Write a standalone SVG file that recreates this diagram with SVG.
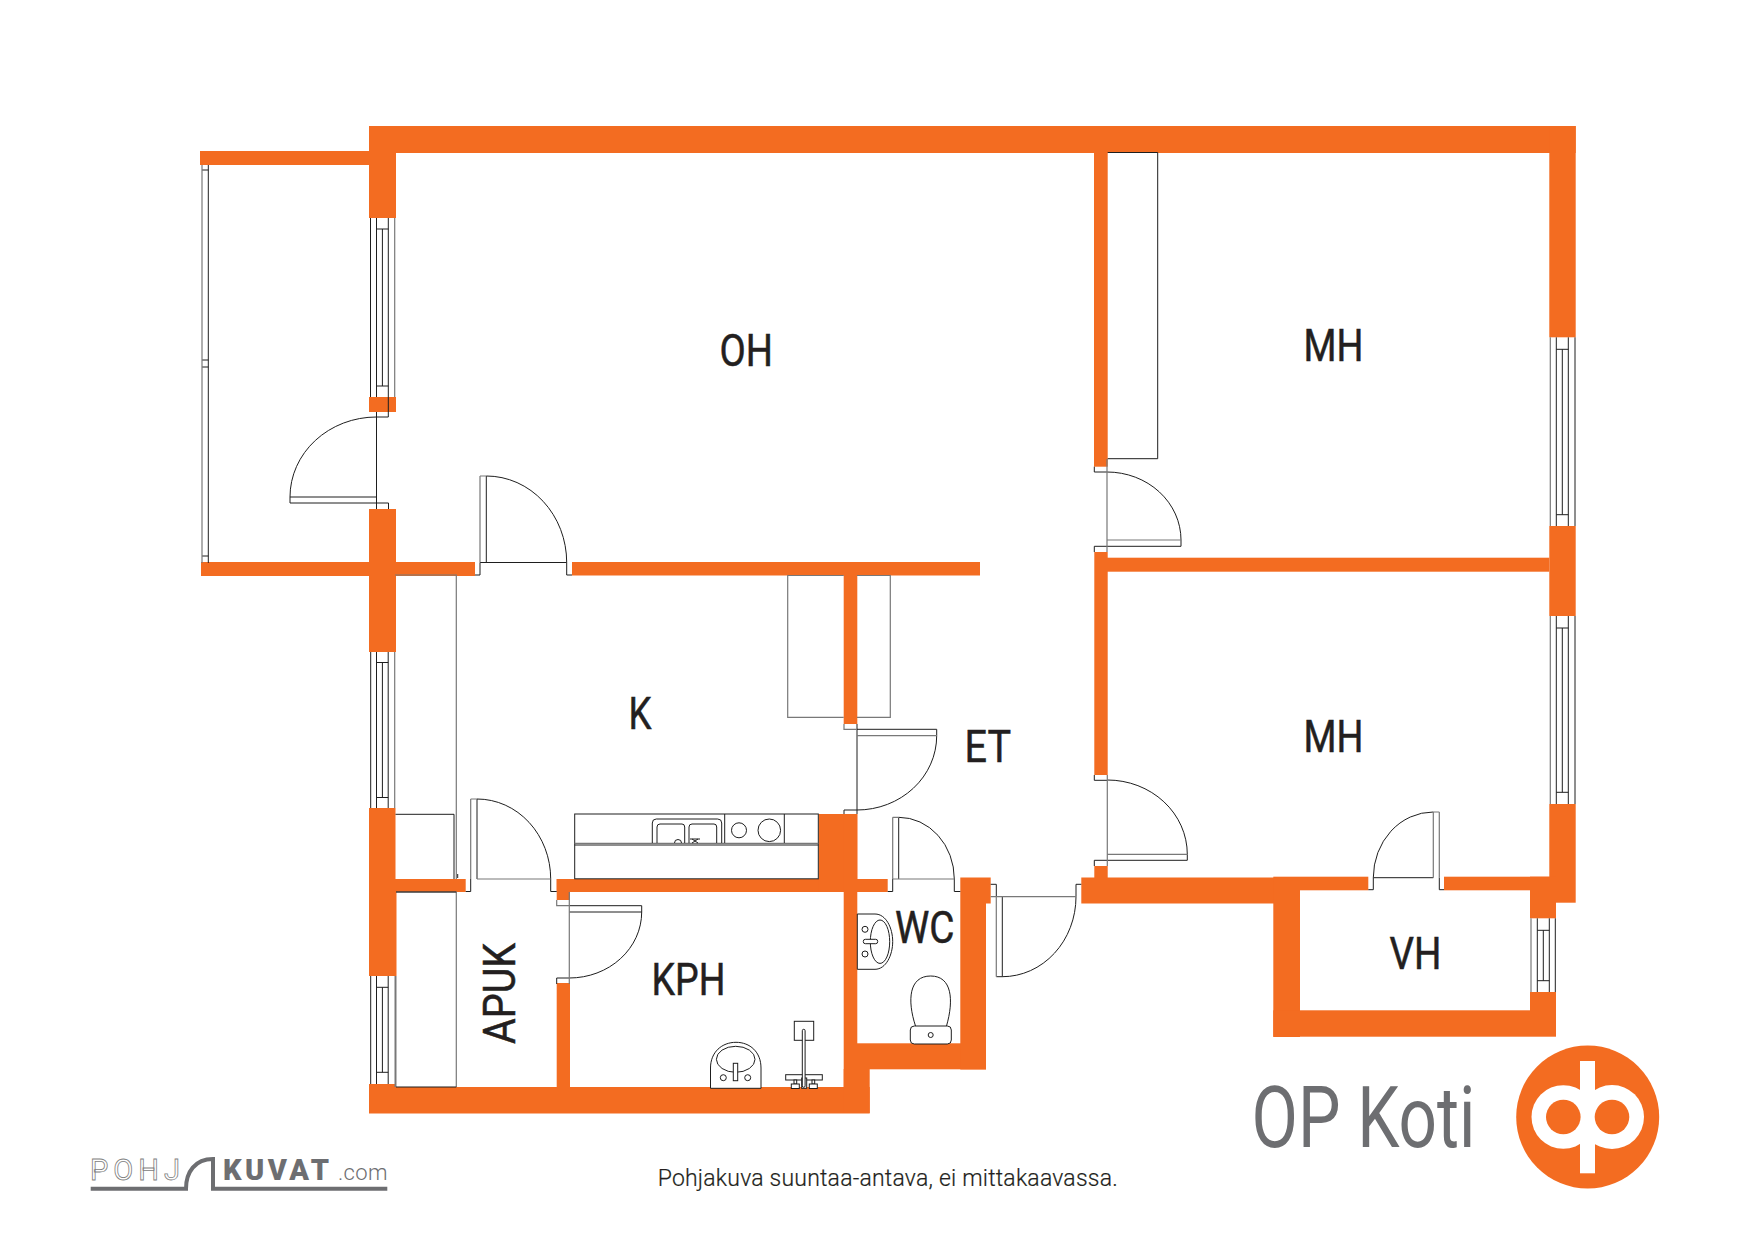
<svg xmlns="http://www.w3.org/2000/svg" width="1754" height="1241" viewBox="0 0 1754 1241">
<style>
.w{fill:#f36c21}
.l{fill:none;stroke:#1e1e1e;stroke-width:1}
.g{fill:none;stroke:#787878;stroke-width:1.2}
.f{fill:#fff;stroke:#1e1e1e;stroke-width:1}
.o{fill:#f36c21}
.t{font-family:"Roboto","Liberation Sans",sans-serif;font-size:44px;fill:#231f20;stroke:#231f20;stroke-width:.5;font-weight:400}
</style>
<rect width="1754" height="1241" fill="#fff"/>
<g id="walls">
<rect class="w" x="369" y="126" width="1206.7" height="27"/>
<rect class="w" x="200" y="151" width="170" height="14"/>
<rect class="w" x="369" y="126" width="27" height="92"/>
<rect class="w" x="369" y="397" width="27" height="15"/>
<rect class="w" x="369" y="509" width="27" height="143"/>
<rect class="w" x="201" y="562" width="274" height="14"/>
<rect class="w" x="572" y="562" width="408" height="13.5"/>
<rect class="w" x="369" y="808" width="26.5" height="168"/>
<rect class="w" x="395" y="879" width="70.7" height="13"/>
<rect class="w" x="395" y="892" width="1.5" height="84"/>
<rect class="w" x="369" y="1084" width="27" height="29"/>
<rect class="w" x="369" y="1087" width="500.7" height="26.5"/>
<rect class="w" x="556.7" y="983" width="13.3" height="104"/>
<rect class="w" x="556.7" y="879" width="13.3" height="21"/>
<rect class="w" x="556.7" y="879" width="300.6" height="13"/>
<rect class="w" x="818.7" y="814" width="38.6" height="78"/>
<rect class="w" x="843.7" y="575" width="13.6" height="149"/>
<rect class="w" x="843.7" y="814" width="13.6" height="273"/>
<rect class="w" x="857" y="879" width="30.7" height="13"/>
<rect class="w" x="857" y="1043.3" width="129" height="26"/>
<rect class="w" x="843.7" y="1069" width="26" height="44"/>
<rect class="w" x="960.3" y="877.5" width="25.7" height="192"/>
<rect class="w" x="986" y="877.5" width="4.7" height="26"/>
<rect class="w" x="1081.3" y="877.5" width="196" height="26"/>
<rect class="w" x="1094.3" y="866" width="13.4" height="12"/>
<rect class="w" x="1094.3" y="552" width="13.4" height="223"/>
<rect class="w" x="1094" y="153" width="13.7" height="313.7"/>
<rect class="w" x="1107" y="557.7" width="442.3" height="14"/>
<rect class="w" x="1549.3" y="126" width="26.4" height="211.3"/>
<rect class="w" x="1549.3" y="526" width="26.4" height="90"/>
<rect class="w" x="1549.3" y="804" width="26.4" height="98.7"/>
<rect class="w" x="1273.3" y="876.7" width="95" height="13.6"/>
<rect class="w" x="1444" y="876.7" width="105.7" height="13.6"/>
<rect class="w" x="1530" y="876.7" width="26" height="41.6"/>
<rect class="w" x="1273.3" y="880" width="26.7" height="157"/>
<rect class="w" x="1273.3" y="1010.3" width="282.7" height="26.4"/>
<rect class="w" x="1530" y="992" width="26" height="44"/>
</g>
<g id="windows">
<path class="l" d="M370.5 218V397M376.5 218V397M388.3 218V412M376.5 229H388.3M376.5 386H388.3M382.4 229V386"/>
<path class="g" d="M394.7 218V397"/>
<path class="l" d="M208.3 165V563M202 360H208.3M202 367H208.3M202 170H208.3M202 556H208.3"/>
<path class="g" d="M202 165V563"/>
<path class="l" d="M370.7 652V808M376.5 652V808M388.2 652V808M376.5 662.5H388.2M376.5 797.5H388.2M382.4 662.5V797.5"/>
<path class="g" d="M394.7 652V808"/>
<path class="l" d="M370.7 976V1084M376.5 976V1084M388.2 976V1084M376.5 987.3H388.2M376.5 1072.3H388.2M382.4 987.3V1072.3"/>
<path class="g" d="M395.5 976V1087" style="stroke-width:2"/>
<path class="l" d="M1556.3 337.3V526M1562.3 349.3V514.7M1568.3 337.3V526M1575 337.3V526M1556.3 349.3H1568.3M1556.3 514.7H1568.3"/>
<path class="g" d="M1550.3 337.3V526"/>
<path class="l" d="M1556.3 616V804M1562.3 628V792.3M1568.3 616V804M1575 616V804M1556.3 628H1568.3M1556.3 792.3H1568.3"/>
<path class="g" d="M1550.3 616V804"/>
<path class="l" d="M1537.3 918.3V992M1543.3 930.3V980.7M1549.3 918.3V992M1555.3 918.3V992M1537.3 930.3H1549.3M1537.3 980.7H1549.3"/>
<path class="g" d="M1531 918.3V992"/>
</g>
<g id="doors">
<path class="l" d="M376.5 412V509M376.5 417H388.3V412M376.5 417A86.5 80 0 0 0 290 497M290 497H376.5M290 497V503H376.5M376.5 503H388.5V509"/>
<path class="l" d="M486.3 476V562.5M480 562.5H566.7M486.3 476A80.4 86.5 0 0 1 566.7 562.5M475 575H480V562.5M566.7 562.5V575H572"/>
<path class="g" d="M480 476V562.5M480 476H486.3"/>
<path class="l" d="M477 799V879M477 799A73.7 80 0 0 1 550.7 879M465.7 891.5H470.7V879M550.7 879V891.5H556.7"/>
<path class="g" d="M470.7 799V879M470.7 799H477M477 879H550.7"/>
<path class="l" d="M569.3 912H641.7M641.7 905.7V912M641.7 912A72.4 66 0 0 1 569.3 978M556.7 984V978H569.3M569.3 905.7H641.7"/>
<path class="g" d="M569.3 892V984M556.7 900V905.7H569.3"/>
<path class="l" d="M857 724V814M857 729.3H936.7V735.7M936.7 735.7A79.7 74.3 0 0 1 857 810M844 814V810H857"/>
<path class="g" d="M844 724V729.3H857M857 735.7H936.7"/>
<path class="l" d="M898.7 817.3V879M898.7 817.3A55.6 61.7 0 0 1 954.3 879M887.7 891.5H892.7V879M954.3 879V891.5H960.3"/>
<path class="g" d="M892.7 817.3V879M892.7 817.3H898.7M892.7 879H954.3"/>
<path class="l" d="M1002.3 896.7V976.7M1002.3 976.7A73.7 80 0 0 0 1076 896.7M996.3 976.7H1002.3M990.7 884.3H996.3V896.7M1076 896.7V884.3H1081.3"/>
<path class="g" d="M996.3 896.7V976.7M990.7 896.7H1076"/>
<path class="l" d="M1107.3 780A80 74.3 0 0 1 1187.3 854.3V860.3H1107.3M1094.3 866V860.3H1107.3M1094.3 775V780.3H1107.3"/>
<path class="g" d="M1107.3 775V866M1107.3 854.3H1187.3"/>
<path class="l" d="M1107 472A74 68 0 0 1 1181 540V546.3H1107M1094.3 552V546.3H1107M1094.3 466.7V472H1107"/>
<path class="g" d="M1107 459V552M1107 540H1181"/>
<path class="l" d="M1373.3 877.7H1433.3M1433.3 812A60 65.7 0 0 0 1373.3 877.7M1368.3 889.7H1373.3V877.7M1439.3 877.7V889.7H1444"/>
<path class="g" d="M1433.3 812V877.7M1439.3 812V877.7M1433.3 812H1439.3"/>
</g>
<g id="furniture">
<path class="g" d="M395 575H456.3V879"/>
<path class="l" d="M395.5 814.3H454V879M457.7 874V878"/>
<path class="g" d="M396 892H456.3V1087"/>
<path class="l" d="M396 892H456.3M396 1087H456.3"/>
<path class="l" d="M1107.7 152.5H1157.7V458.7H1107.7"/>
<path class="g" d="M843.7 575.5H787.7V717.3H843.7M857 575.5H890.3V717.3H857"/>
</g>
<g id="kitchen">
<rect class="f" x="574.7" y="814" width="243.6" height="64.8"/>
<path class="g" d="M574.7 843.3H818.3"/>
<path class="l" d="M574.7 845H818.3M724.7 814V843M784.3 814V843"/>
<path class="l" d="M652.3 843V823Q652.3 819 656.3 819H717.7Q721.7 819 721.7 823V843M657 843V827Q657 824 660 824H682Q684.7 824 684.7 827V843M689 843V827Q689 824 692 824H714Q716.7 824 716.7 827V843"/>
<path class="l" d="M674.5 843A3.5 3.5 0 0 1 681.5 843M690 839H700M692 843L698 839M698 843L692 839"/>
<circle class="l" cx="739" cy="830.3" r="7.5"/>
<circle class="l" cx="769.3" cy="830.3" r="11.3"/>
</g>
<g id="bathroom">
<path class="f" d="M710.5 1088.3V1068C710.5 1052 722 1042.3 736 1042.3C750 1042.3 761 1052 761 1068V1088.3Z"/>
<ellipse class="l" cx="735.7" cy="1059.3" rx="19.3" ry="13"/>
<rect class="f" x="733.3" y="1063.3" width="4.4" height="17.4"/>
<circle class="l" cx="723.3" cy="1077.7" r="3"/>
<circle class="l" cx="747.7" cy="1077.7" r="3"/>
<rect class="f" x="794.3" y="1021.3" width="19.4" height="19"/>
<rect class="f" x="785.7" y="1074.7" width="36.6" height="5.3"/>
<rect class="f" x="794" y="1080" width="2.7" height="4"/>
<rect class="f" x="812" y="1080" width="2.7" height="4"/>
<rect class="f" x="791.3" y="1084" width="8" height="4.5"/>
<rect class="f" x="809.3" y="1084" width="8" height="4.5"/>
<rect class="f" x="801.7" y="1078" width="5" height="10.3"/>
<rect class="f" x="802.3" y="1029.3" width="2.8" height="58" rx="1.4"/>
</g>
<g id="wc-fixtures">
<path class="f" d="M857.3 914H875C886 914 892.7 928 892.7 941.6C892.7 955 886 969.3 875 969.3H857.3Z"/>
<ellipse class="l" cx="880" cy="941.7" rx="9.7" ry="21.7"/>
<rect class="f" x="863.3" y="939.3" width="14.4" height="4.4" rx="2"/>
<circle class="l" cx="865" cy="929.3" r="3"/>
<circle class="l" cx="865" cy="954" r="3"/>
<path class="l" d="M915.5 1026C907 1000 909 976 930.7 976C952 976 954 1000 946.5 1026"/>
<rect class="f" x="910.3" y="1026" width="41" height="18" rx="4"/>
<circle class="l" cx="930.7" cy="1035" r="2.5"/>
</g>
<g id="labels">
<text class="t" x="719.5" y="366" textLength="53.5" lengthAdjust="spacingAndGlyphs">OH</text>
<text class="t" x="1303.5" y="360.7" textLength="60" lengthAdjust="spacingAndGlyphs">MH</text>
<text class="t" x="1303.5" y="752" textLength="60" lengthAdjust="spacingAndGlyphs">MH</text>
<text class="t" x="628.5" y="728.6" textLength="23" lengthAdjust="spacingAndGlyphs">K</text>
<text class="t" x="964.5" y="762" textLength="46.5" lengthAdjust="spacingAndGlyphs">ET</text>
<text class="t" x="895" y="943.3" textLength="59.5" lengthAdjust="spacingAndGlyphs">WC</text>
<text class="t" x="1389.5" y="969" textLength="52" lengthAdjust="spacingAndGlyphs">VH</text>
<text class="t" x="651.5" y="994.6" textLength="74" lengthAdjust="spacingAndGlyphs">KPH</text>
<text class="t" transform="translate(515 1044) rotate(-90)" x="0" y="0" textLength="101" lengthAdjust="spacingAndGlyphs">APUK</text>
<text x="657.7" y="1186" textLength="460" style="font-family:'Roboto','Liberation Sans',sans-serif;font-size:23px;font-weight:300;fill:#231f20;stroke:#231f20;stroke-width:.2">Pohjakuva suuntaa-antava, ei mittakaavassa.</text>
</g>
<g id="op-koti">
<text x="1251.5" y="1147.3" textLength="224" lengthAdjust="spacingAndGlyphs" style="font-family:'Roboto','Liberation Sans',sans-serif;font-size:86px;font-weight:400;fill:#6d6e71">OP Koti</text>
<circle class="o" cx="1587.7" cy="1117" r="71.5"/>
<g fill="#fff"><circle cx="1563.3" cy="1117" r="31.8"/><circle cx="1612" cy="1117" r="32"/><rect x="1580" y="1061" width="15" height="112.3"/></g>
<circle class="o" cx="1563.3" cy="1117" r="17.3"/>
<circle class="o" cx="1612" cy="1117" r="17.3"/>
</g>
<g id="pohjakuvat">
<path d="M90.7 1188.7H186C186 1172 195 1159 213 1159V1188.7H387.3" fill="none" stroke="#6d6e71" stroke-width="4"/>
<text x="90" y="1180" textLength="90" style="font-family:'Roboto','Liberation Sans',sans-serif;font-size:29px;font-weight:400;fill:#fff;stroke:#808080;stroke-width:.8">POHJ</text>
<text x="223" y="1180" textLength="106" style="font-family:'Roboto','Liberation Sans',sans-serif;font-size:29px;font-weight:900;fill:#6d6e71">KUVAT</text>
<text x="338" y="1180" textLength="49.5" style="font-family:'Roboto','Liberation Sans',sans-serif;font-size:22px;font-weight:300;fill:#6d6e71">.com</text>
</g>
</svg>
